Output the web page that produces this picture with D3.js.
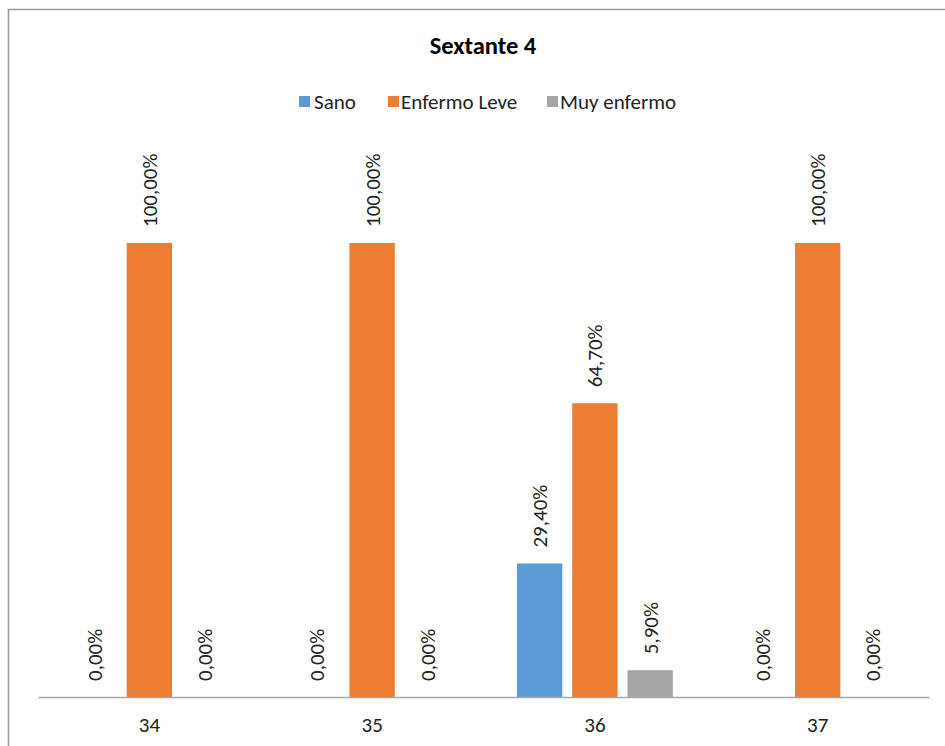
<!DOCTYPE html>
<html>
<head>
<meta charset="utf-8">
<script src="https://cdn.jsdelivr.net/npm/d3@7"></script>
<style>
  html, body { margin: 0; padding: 0; background: #fff; }
  svg { display: block; font-family: Carlito, Calibri, Lato, sans-serif; }
</style>
</head>
<body>
<svg id="chart" width="945" height="746"></svg>
<script>
// Teeth of sextant 4 and the share of each condition per tooth
const categories = ["34", "35", "36", "37"];
const seriesNames = ["Sano", "Enfermo Leve", "Muy enfermo"];
const sano = [0, 0, 0.294, 0];
const enfermoLeve = [1, 1, 0.647, 1];
const muyEnfermo = [0, 0, 0.059, 0];
const seriesColors = ["#5B9BD5", "#ED7D31", "#A5A5A5"];
const chartTitle = "Sextante 4";

const seriesValues = [sano, enfermoLeve, muyEnfermo];

const svg = d3.select("#chart");

// chart frame
svg.append("rect")
  .attr("x", 8.5).attr("y", 9.5)
  .attr("width", 960).attr("height", 800)
  .attr("fill", "#fff").attr("stroke", "#999").attr("stroke-width", 1.5);

const plot = { left: 38, right: 929, top: 243, bottom: 697 };

const x0 = d3.scaleBand().domain(categories).range([plot.left, plot.right]).paddingInner(0).paddingOuter(0);
const x1 = d3.scaleBand().domain(seriesNames).range([0, x0.bandwidth()]).paddingInner(0.18).paddingOuter(0.604);
const y = d3.scaleLinear().domain([0, 1]).range([plot.bottom, plot.top]);

const fmt = v => d3.format(".2f")(v * 100).replace(".", ",") + "%";

// title
svg.append("text")
  .attr("x", 483).attr("y", 54)
  .attr("text-anchor", "middle")
  .attr("font-weight", "bold")
  .attr("font-size", 24.5)
  .attr("fill", "#000")
  .text(chartTitle);

// legend
const legendItems = [
  { sx: 299, tx: 314 },
  { sx: 388, tx: 401 },
  { sx: 547, tx: 560 }
];
const legend = svg.append("g");
seriesNames.forEach((name, i) => {
  legend.append("rect")
    .attr("x", legendItems[i].sx).attr("y", 96)
    .attr("width", 11).attr("height", 11)
    .attr("fill", seriesColors[i]);
  legend.append("text")
    .attr("x", legendItems[i].tx).attr("y", 108.5)
    .attr("font-size", 21)
    .attr("fill", "#222")
    .text(name);
});

// bars
const rows = categories.map((c, ci) => ({
  cat: c,
  vals: seriesNames.map((s, si) => ({ series: s, si, value: seriesValues[si][ci] }))
}));

const groups = svg.append("g").selectAll("g")
  .data(rows).join("g")
  .attr("transform", d => `translate(${x0(d.cat)},0)`);

groups.selectAll("rect")
  .data(d => d.vals).join("rect")
  .attr("x", d => x1(d.series))
  .attr("y", d => y(d.value))
  .attr("width", x1.bandwidth())
  .attr("height", d => y(0) - y(d.value))
  .attr("fill", d => seriesColors[d.si]);

// value labels, rotated
groups.selectAll("text.val")
  .data(d => d.vals).join("text")
  .attr("class", "val")
  .attr("transform", d => `translate(${x1(d.series) + x1.bandwidth() / 2 + 7.5},${y(d.value) - 16}) rotate(-90)`)
  .attr("font-size", 21)
  .attr("fill", "#222")
  .text(d => fmt(d.value));

// category axis
const xAxis = svg.append("g")
  .attr("transform", `translate(0,${plot.bottom})`)
  .call(d3.axisBottom(x0).tickSize(0).tickPadding(0));
xAxis.select(".domain").attr("stroke", "#A6A6A6").attr("stroke-width", 1.5);
xAxis.selectAll("text")
  .attr("font-size", 21)
  .attr("font-family", "Carlito, Calibri, Lato, sans-serif")
  .attr("fill", "#222")
  .attr("dy", null)
  .attr("y", 35);
</script>
</body>
</html>
